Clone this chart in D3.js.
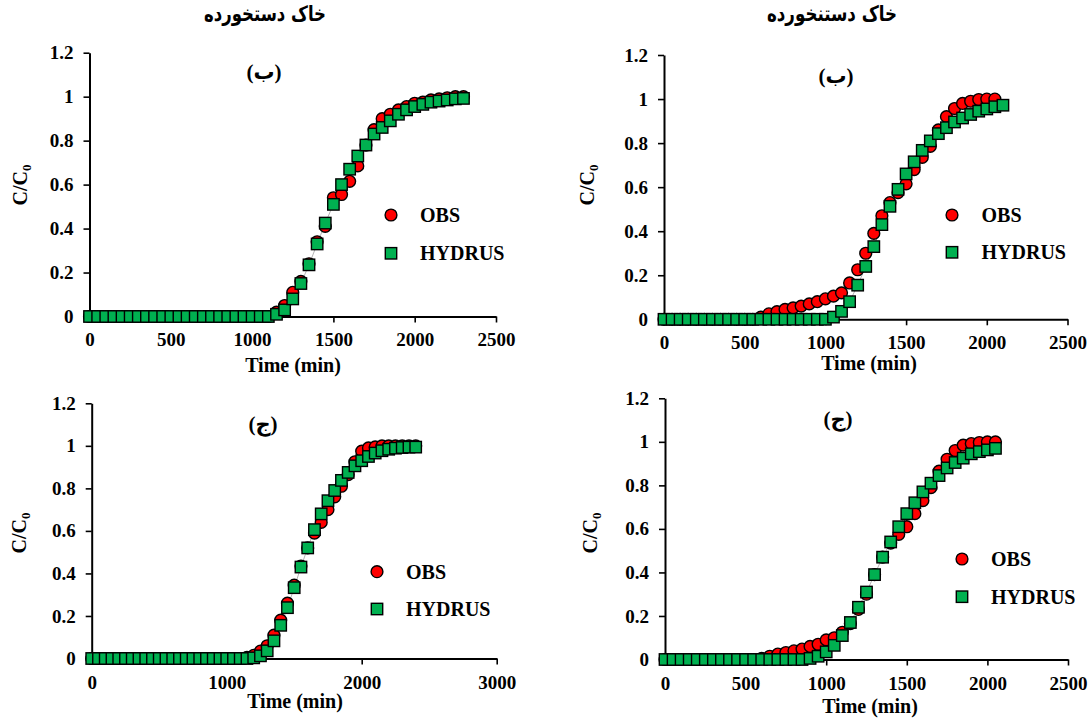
<!DOCTYPE html>
<html>
<head>
<meta charset="utf-8">
<script src="https://cdn.jsdelivr.net/npm/d3@7"></script>
<style>
  body { margin: 0; background: #fff; }
  svg { display: block; }
</style>
</head>
<body>
<svg id="chart" width="1091" height="719"></svg>
<script>
// ---- tick values ----
const yTicks = [0, 0.2, 0.4, 0.6, 0.8, 1, 1.2];
const xTicks2500 = [0, 500, 1000, 1500, 2000, 2500];
const xTicks3000 = [0, 1000, 2000, 3000];

// ---- text ----
const titleDisturbed = "خاک دستخورده";
const titleUndisturbed = "خاک دستنخورده";
const labelB = "(ب)";
const labelJ = "(ج)";
const seriesNames = ["OBS", "HYDRUS"];

// ---- disturbed soil, panel (ب) ----
const timeDistB = [0,50,100,150,200,250,300,350,400,450,500,550,600,650,700,750,800,850,900,950,1000,1050,1100,
  1150,1200,1250,1300,1350,1400,1450,1500,1550,1600,1650,1700,1750,1800,1850,1900,1950,2000,2050,2100,2150,2200,2250,2300];
const obsDistB = [0,0,0,0,0,0,0,0,0,0,0,0,0,0,0,0,0,0,0,0,0,0,0,
  0.02,0.05,0.11,0.16,0.24,0.34,0.41,0.54,0.555,0.615,0.685,0.78,0.85,0.90,0.92,0.94,0.955,0.97,0.975,0.985,0.99,0.995,1.0,1.0];
const hydDistB = [0,0,0,0,0,0,0,0,0,0,0,0,0,0,0,0,0,0,0,0,0,0,0,
  0.01,0.03,0.08,0.15,0.235,0.33,0.425,0.51,0.60,0.67,0.73,0.78,0.83,0.86,0.89,0.92,0.94,0.955,0.965,0.975,0.98,0.985,0.99,0.992];

// ---- undisturbed soil, panel (ب) ----
const timeUndObsB = [0,50,100,150,200,250,300,350,400,450,500,550,
  600,650,700,750,800,850,900,950,1000,1050,1100,1150,1200,1250,1300,1350,1400,1450,1500,1550,1600,1650,1700,1750,1800,1850,1900,1950,2000,2050];
const obsUndB = [0,0,0,0,0,0,0,0,0,0,0,0,
  0.01,0.025,0.035,0.045,0.052,0.06,0.07,0.08,0.093,0.105,0.12,0.165,0.225,0.30,0.39,0.47,0.53,0.575,0.615,0.68,0.735,0.785,0.86,0.92,0.957,0.98,0.99,0.998,1.0,1.0];
const timeUndHydB = [0,50,100,150,200,250,300,350,400,450,500,550,600,650,700,750,800,850,900,950,1000,
  1050,1100,1150,1200,1250,1300,1350,1400,1450,1500,1550,1600,1650,1700,1750,1800,1850,1900,1950,2000,2050,2100];
const hydUndB = [0,0,0,0,0,0,0,0,0,0,0,0,0,0,0,0,0,0,0,0,0,
  0.01,0.036,0.08,0.155,0.24,0.33,0.43,0.513,0.59,0.66,0.715,0.767,0.81,0.843,0.87,0.896,0.914,0.93,0.945,0.955,0.965,0.972];

// ---- disturbed soil, panel (ج) ----
const timeDistJ = [0,50,100,150,200,250,300,350,400,450,500,550,600,650,700,750,800,850,900,950,1000,1050,1100,
  1150,1200,1250,1300,1350,1400,1450,1500,1550,1600,1650,1700,1750,1800,1850,1900,1950,2000,2050,2100,2150,2200,2250,2300,2350,2400];
const obsDistJ = [0,0,0,0,0,0,0,0,0,0,0,0,0,0,0,0,0,0,0,0,0,0,0,
  0.005,0.015,0.035,0.06,0.11,0.18,0.26,0.345,0.435,0.52,0.59,0.64,0.70,0.76,0.81,0.865,0.925,0.975,0.99,0.995,1,1,1,1,1,1];
const hydDistJ = [0,0,0,0,0,0,0,0,0,0,0,0,0,0,0,0,0,0,0,0,0,0,0,0,
  0.003,0.0125,0.036,0.083,0.156,0.239,0.333,0.43,0.52,0.606,0.68,0.742,0.79,0.8375,0.875,0.906,0.93,0.95,0.966,0.977,0.984,0.989,0.992,0.994,0.994];

// ---- undisturbed soil, panel (ج) ----
const timeUndJ = [0,50,100,150,200,250,300,350,400,450,500,550,600,650,700,750,800,850,900,950,1000,
  1050,1100,1150,1200,1250,1300,1350,1400,1450,1500,1550,1600,1650,1700,1750,1800,1850,1900,1950,2000,2050];
const obsUndJ = [0,0,0,0,0,0,0,0,0,0,0,0,
  0.005,0.015,0.025,0.032,0.04,0.048,0.06,0.07,0.09,0.10,0.125,0.165,0.23,0.30,0.39,0.47,0.535,0.575,0.61,0.67,0.73,0.79,0.865,0.92,0.96,0.985,0.992,0.997,1.0,1.0];
const hydUndJ = [0,0,0,0,0,0,0,0,0,0,0,0,0,0,0,0,0,0,
  0.005,0.015,0.035,0.065,0.11,0.17,0.24,0.31,0.39,0.47,0.54,0.61,0.67,0.72,0.77,0.81,0.845,0.88,0.905,0.925,0.945,0.955,0.963,0.97];

// ---- panel layout ----
const panels = [
  { obsT: timeDistB, obs: obsDistB, hydT: timeDistB, hyd: hydDistB, xMax: 2500, xTicks: xTicks2500,
    left: 89.5, right: 496, bottom: 316.5, top: 52.7, label: labelB, labelX: 264, labelY: 72,
    legX: 391, legY: [215, 253.3], legTextX: 420, titleX: 293, titleY: 371.5, yLabX: 27, yLabY: 185, tickPad: 10.5 },
  { obsT: timeUndObsB, obs: obsUndB, hydT: timeUndHydB, hyd: hydUndB, xMax: 2500, xTicks: xTicks2500,
    left: 664, right: 1067.5, bottom: 319.3, top: 55, label: labelB, labelX: 836, labelY: 76,
    legX: 952, legY: [215, 252.3], legTextX: 981.5, titleX: 869, titleY: 369.5, yLabX: 594, yLabY: 185, tickPad: 10 },
  { obsT: timeDistJ, obs: obsDistJ, hydT: timeDistJ, hyd: hydDistJ, xMax: 3000, xTicks: xTicks3000,
    left: 91.7, right: 496.7, bottom: 658.5, top: 403.3, label: labelJ, labelX: 263, labelY: 424,
    legX: 377, legY: [571.7, 609], legTextX: 406, titleX: 295, titleY: 707.5, yLabX: 26, yLabY: 533, tickPad: 11.5 },
  { obsT: timeUndJ, obs: obsUndJ, hydT: timeUndJ, hyd: hydUndJ, xMax: 2500, xTicks: xTicks2500,
    left: 665, right: 1068, bottom: 659.5, top: 398.3, label: labelJ, labelX: 838, labelY: 419,
    legX: 962, legY: [559, 596.7], legTextX: 991, titleX: 870, titleY: 712.5, yLabX: 597, yLabY: 533, tickPad: 11.5 }
];

const RED = "#ff0000";
const GREEN = "#00b050";
const SERIF = "'Liberation Serif','Times New Roman',serif";
const R = 5.9;      // circle radius
const SQ = 11.4;    // square side

const svg = d3.select("#chart");

function circleMark(sel, cx, cy) {
  sel.append("circle").attr("cx", cx).attr("cy", cy).attr("r", R)
    .attr("fill", RED).attr("stroke", "#000").attr("stroke-width", 1.4);
}
function squareMark(sel, cx, cy) {
  sel.append("rect").attr("x", cx - SQ / 2).attr("y", cy - SQ / 2)
    .attr("width", SQ).attr("height", SQ)
    .attr("fill", GREEN).attr("stroke", "#000").attr("stroke-width", 1.4);
}

panels.forEach(p => {
  const x = d3.scaleLinear().domain([0, p.xMax]).range([p.left, p.right]);
  const y = d3.scaleLinear().domain([0, 1.2]).range([p.bottom, p.top]);
  const g = svg.append("g");

  // axes
  const ax = g.append("g").attr("transform", `translate(0,${p.bottom})`)
    .call(d3.axisBottom(x).tickValues(p.xTicks).tickFormat(d3.format("d"))
      .tickSize(6).tickSizeOuter(0).tickPadding(p.tickPad));
  const ay = g.append("g").attr("transform", `translate(${p.left},0)`)
    .call(d3.axisLeft(y).tickValues(yTicks).tickFormat(d3.format("~g"))
      .tickSize(6).tickSizeOuter(0).tickPadding(10));
  [ax, ay].forEach(a => {
    a.select(".domain").attr("stroke", "#000").attr("stroke-width", 2);
    a.selectAll(".tick line").attr("stroke", "#000").attr("stroke-width", 1.6);
    a.selectAll(".tick text").attr("fill", "#000")
      .style("font-family", SERIF).style("font-weight", "bold").style("font-size", "19px");
  });

  // faint model curve behind the markers
  const hydPts = p.hydT.map((t, i) => [t, p.hyd[i]]);
  g.append("path").datum(hydPts)
    .attr("d", d3.line().x(d => x(d[0])).y(d => y(d[1])))
    .attr("fill", "none").attr("stroke", "#a0a0a0").attr("stroke-width", 0.8);

  // observed values
  const obsPts = p.obsT.map((t, i) => [t, p.obs[i]]);
  g.append("g").selectAll("circle").data(obsPts).join("circle")
    .attr("cx", d => x(d[0])).attr("cy", d => y(d[1])).attr("r", R)
    .attr("fill", RED).attr("stroke", "#000").attr("stroke-width", 1.4);

  // HYDRUS values
  g.append("g").selectAll("rect").data(hydPts).join("rect")
    .attr("x", d => x(d[0]) - SQ / 2).attr("y", d => y(d[1]) - SQ / 2)
    .attr("width", SQ).attr("height", SQ)
    .attr("fill", GREEN).attr("stroke", "#000").attr("stroke-width", 1.4);

  // legend
  const lg = g.append("g");
  circleMark(lg, p.legX, p.legY[0]);
  squareMark(lg, p.legX, p.legY[1]);
  seriesNames.forEach((name, i) => {
    lg.append("text").attr("x", p.legTextX).attr("y", p.legY[i] + 6.8)
      .style("font-family", SERIF).style("font-weight", "bold").style("font-size", "20px")
      .text(name);
  });

  // axis titles
  g.append("text").attr("x", p.titleX).attr("y", p.titleY).attr("text-anchor", "middle")
    .style("font-family", SERIF).style("font-weight", "bold").style("font-size", "20px")
    .text("Time (min)");

  const yl = g.append("text")
    .attr("transform", `translate(${p.yLabX},${p.yLabY}) rotate(-90)`)
    .attr("text-anchor", "middle")
    .style("font-family", SERIF).style("font-weight", "bold").style("font-size", "20px");
  yl.append("tspan").text("C/C");
  yl.append("tspan").attr("dy", 4).style("font-size", "13px").text("0");

  // panel letter
  g.append("text").attr("x", p.labelX).attr("y", p.labelY)
    .attr("text-anchor", "middle").attr("dominant-baseline", "central")
    .style("font-family", SERIF + ",'DejaVu Sans'").style("font-weight", "bold").style("font-size", "21px")
    .text(p.label);
});

// column headings, fitted to the column width and drawn a little taller
[[titleDisturbed, 265, 122], [titleUndisturbed, 832, 130]].forEach(([txt, cx, w]) => {
  const g = svg.append("g").attr("transform", `translate(${cx},21) scale(1,1.3)`);
  const t = g.append("text").attr("x", 0).attr("y", 0)
    .attr("text-anchor", "middle")
    .style("font-family", "'DejaVu Sans','Noto Sans',sans-serif").style("font-weight", "bold")
    .style("font-size", "16px").text(txt);
  const len = t.node().getComputedTextLength();
  if (len > 0) t.style("font-size", (16 * w / len).toFixed(2) + "px");
});
</script>
</body>
</html>
